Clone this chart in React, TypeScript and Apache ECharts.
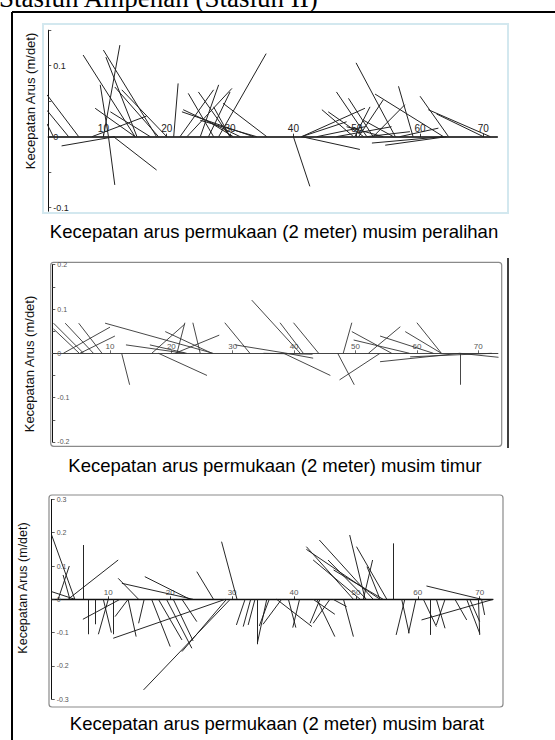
import React, { useEffect, useRef } from "react";
import * as echarts from "echarts";

// ---------- data (time index of stick origin, stick tip x, stick tip y [m/det]) ----------
const xTickValues = [10, 20, 30, 40, 50, 60, 70];

const peralihanStart = [6.1, 4.5, 2.1, 11.8, 8.2, 15.0, 18.4, 15.3, 10.0, 10.8, 10.8, 11.6, 15.0, 17.4, 18.7, 20.0, 21.1, 22.1, 23.2, 25.3, 26.6, 28.2, 27.4, 30.0, 31.6, 33.7, 35.8, 34.2, 30.0, 30.5, 40.0, 41.3, 41.3, 41.3, 49.5, 51.1, 51.6, 52.6, 56.1, 49.7, 50.3, 55.8, 58.9, 52.6, 63.7, 64.5, 71.1, 70.0, 63.7, 64.2, 56.8, 46.8, 51.6, 43.7, 54.2];
const peralihanTipX = [1.1, 1.1, 1.1, 3.4, 16.8, 6.8, 10.0, 10.4, 12.6, 9.5, 11.8, 18.4, 8.7, 11.1, 11.8, 12.9, 21.8, 27.4, 30.3, 28.2, 30.0, 35.7, 23.4, 25.0, 22.6, 22.4, 28.9, 25.3, 27.4, 26.3, 42.6, 50.5, 51.3, 48.4, 44.5, 45.5, 46.8, 48.7, 49.9, 52.1, 54.2, 51.1, 56.6, 57.6, 52.9, 60.0, 61.3, 62.6, 52.4, 54.5, 62.9, 55.5, 58.4, 51.3, 48.4];
const peralihanTipY = [0.059, 0.037, 0.018, -0.013, 0.029, 0.115, 0.122, 0.112, 0.129, 0.073, -0.068, -0.047, 0.040, 0.035, 0.070, 0.066, 0.075, 0.066, 0.068, 0.073, 0.063, 0.117, 0.061, 0.063, 0.038, 0.035, 0.047, 0.023, 0.042, 0.023, -0.070, -0.018, 0.040, 0.021, 0.038, 0.035, 0.063, 0.054, 0.104, 0.042, 0.052, 0.023, 0.071, 0.045, 0.060, 0.057, 0.038, 0.032, -0.009, -0.012, 0.012, 0.014, 0.007, 0.014, 0.014];

const timurStart = [5.7, 5.0, 7.3, 8.7, 2.4, 5.1, 11.9, 26.8, 22.2, 16.8, 20.9, 26.6, 24.7, 17.9, 20.6, 22.5, 32.8, 38.8, 38.8, 38.3, 41.0, 41.5, 44.0, 48.0, 47.1, 54.0, 55.9, 58.8, 52.1, 62.7, 64.0, 64.0, 67.0, 67.0, 72.2, 67.0, 35.0];
const timurTipX = [0.8, 0.8, 2.7, 4.9, 10.0, 10.8, 13.2, 9.2, 12.6, 22.2, 22.2, 19.0, 23.5, 25.8, 27.8, 16.5, 28.7, 30.4, 43.1, 45.9, 33.1, 37.7, 39.9, 49.4, 49.8, 47.4, 49.4, 49.7, 57.3, 54.0, 58.1, 60.0, 54.0, 67.0, 58.9, 73.3, 43.0];
const timurTipY = [0.068, 0.055, 0.068, 0.068, 0.059, 0.039, -0.071, 0.068, 0.019, 0.066, 0.069, 0.049, 0.069, -0.050, 0.041, 0.019, 0.069, 0.019, -0.011, -0.050, 0.120, 0.069, 0.069, 0.069, -0.071, -0.060, 0.049, 0.030, 0.060, 0.039, 0.049, 0.069, -0.019, -0.071, -0.008, -0.009, -0.002];

const baratStart = [4.6, 1.9, 3.8, 4.6, 3.5, 5.9, 6.8, 7.9, 10.8, 10.0, 9.2, 11.9, 13.2, 28.9, 14.9, 23.7, 23.2, 13.2, 15.8, 17.0, 18.1, 19.4, 20.5, 21.9, 29.7, 29.1, 27.0, 30.8, 32.1, 33.0, 33.7, 34.0, 35.6, 36.0, 38.0, 37.2, 39.1, 40.9, 44.2, 43.1, 43.7, 45.8, 48.0, 46.3, 49.6, 53.9, 50.7, 52.8, 51.7, 51.5, 55.0, 51.2, 53.9, 54.4, 56.0, 57.9, 57.4, 59.7, 60.9, 62.0, 63.0, 64.4, 72.2, 66.0, 67.9, 68.4, 69.8, 70.3, 70.3];
const baratTipX = [0.85, 3.7, 2.7, 0.85, 11.6, 5.9, 6.8, 7.9, 10.8, 8.4, 10.5, 5.9, 11.1, 10.8, 11.6, 12.2, 15.9, 14.5, 14.9, 20.0, 21.9, 23.5, 23.7, 24.3, 15.7, 21.9, 24.3, 28.3, 30.7, 31.8, 32.6, 34.0, 34.1, 34.4, 35.0, 42.9, 40.3, 39.8, 42.6, 46.6, 46.6, 43.1, 49.6, 48.5, 42.0, 42.0, 43.1, 44.1, 45.5, 49.0, 50.1, 52.7, 51.8, 46.4, 56.0, 56.5, 58.6, 58.5, 63.0, 62.0, 64.4, 63.0, 60.6, 67.9, 70.0, 70.0, 70.0, 70.8, 61.4];
const baratTipY = [0.193, 0.100, 0.073, 0.023, 0.118, 0.163, -0.105, -0.075, -0.105, -0.105, -0.100, -0.060, -0.052, -0.117, 0.063, 0.048, 0.068, -0.112, -0.072, -0.142, -0.122, -0.147, -0.125, -0.067, -0.272, -0.157, 0.083, 0.173, -0.077, -0.082, -0.077, -0.135, -0.130, -0.080, -0.075, -0.082, -0.085, -0.085, -0.072, -0.045, -0.112, -0.072, -0.112, -0.022, 0.158, 0.150, 0.118, 0.178, 0.118, 0.193, 0.158, 0.118, 0.098, 0.088, 0.168, -0.107, -0.102, -0.102, -0.082, -0.107, -0.087, -0.077, -0.062, -0.062, -0.102, -0.067, -0.107, -0.047, 0.040];

const peralihanYTicks = [-0.1, -0.05, 0, 0.05, 0.1, 0.15];
const peralihanYLabels = [-0.1, 0, 0.1];
const timurYTicks = [-0.2, -0.15, -0.1, -0.05, 0, 0.05, 0.1, 0.15, 0.2];
const timurYLabels = [-0.2, -0.1, 0, 0.1, 0.2];
const baratYTicks = [-0.3, -0.2, -0.1, 0, 0.1, 0.2, 0.3];
const baratYLabels = [-0.3, -0.2, -0.1, 0, 0.1, 0.2, 0.3];

const yTitle = "Kecepatan Arus (m/det)";
const captions = [
  "Kecepatan arus permukaan (2 meter) musim peralihan",
  "Kecepatan arus permukaan (2 meter) musim timur",
  "Kecepatan arus permukaan (2 meter) musim barat",
];
const pageTitle = "Stasiun Ampenan (Stasiun II)";

// ---------- helpers ----------
function sticks(start: number[], tipX: number[], tipY: number[]) {
  return start.map((s, i) => ({ coords: [[s, 0], [tipX[i], tipY[i]]] }));
}

const fmt = (v: number) => (Math.abs(v) < 1e-9 ? "0" : v.toFixed(1));

type PanelCfg = {
  left: number; top: number; width: number; height: number;
  xMin: number; xMax: number; yMin: number; yMax: number;
  yTicks: number[]; yLabels: number[];
  labelSize: number; labelColor: string;
  axisColor: string; axisWidth: number;
  stickColor: string; stickWidth: number;
  data: any[];
};

export default function App() {
  const ref = useRef<HTMLDivElement>(null);

  useEffect(() => {
    if (!ref.current) return;
    const chart = echarts.init(ref.current, undefined, { renderer: "svg" });

    const panels: PanelCfg[] = [
      {
        left: 48.3, top: 30.2, width: 449, height: 181,
        xMin: 1.3, xMax: 72.2, yMin: -0.105, yMax: 0.15,
        yTicks: peralihanYTicks, yLabels: peralihanYLabels,
        labelSize: 9, labelColor: "#222", axisColor: "#000", axisWidth: 1.5,
        stickColor: "#222", stickWidth: 1,
        data: sticks(peralihanStart, peralihanTipX, peralihanTipY),
      },
      {
        left: 52.3, top: 264.7, width: 445.6, height: 177.2,
        xMin: 0.6, xMax: 73.2, yMin: -0.2, yMax: 0.2,
        yTicks: timurYTicks, yLabels: timurYLabels,
        labelSize: 7, labelColor: "#555", axisColor: "#444", axisWidth: 1,
        stickColor: "#333", stickWidth: 0.9,
        data: sticks(timurStart, timurTipX, timurTipY),
      },
      {
        left: 51.7, top: 499.4, width: 441, height: 199.8,
        xMin: 0.86, xMax: 72.1, yMin: -0.3, yMax: 0.3,
        yTicks: baratYTicks, yLabels: baratYLabels,
        labelSize: 7, labelColor: "#555", axisColor: "#111", axisWidth: 1.3,
        stickColor: "#1a1a1a", stickWidth: 0.95,
        data: sticks(baratStart, baratTipX, baratTipY),
      },
    ];

    const font = "'Liberation Sans', Arial, sans-serif";

    const option: any = {
      animation: false,
      backgroundColor: "#fff",
      grid: panels.map((p) => ({
        left: p.left, top: p.top, width: p.width, height: p.height,
        containLabel: false, outerBoundsMode: "none",
      })),
      xAxis: panels.map((p, i) => ({
        type: "value", gridIndex: i, min: p.xMin, max: p.xMax,
        position: "bottom",
        // move the axis up to the y = 0 line
        offset: -(p.height * (0 - p.yMin)) / (p.yMax - p.yMin),
        axisLine: { show: true, onZero: false, lineStyle: { color: p.axisColor, width: p.axisWidth } },
        axisTick: { show: true, inside: true, length: 3, customValues: xTickValues, lineStyle: { color: p.axisColor, width: 0.8 } },
        axisLabel: {
          show: true, inside: true, margin: 3, customValues: xTickValues,
          fontSize: p.labelSize + 1, fontFamily: font, color: p.labelColor,
        },
        splitLine: { show: false },
      })),
      yAxis: panels.map((p, i) => ({
        type: "value", gridIndex: i, min: p.yMin, max: p.yMax,
        axisLine: { show: true, onZero: false, lineStyle: { color: "#111", width: 1 } },
        axisTick: { show: true, inside: true, length: 3, customValues: p.yTicks, lineStyle: { color: "#333", width: 0.8 } },
        axisLabel: {
          show: true, inside: true, margin: 5, customValues: p.yLabels,
          formatter: (v: number) => fmt(v),
          fontSize: p.labelSize, fontFamily: font, color: p.labelColor,
        },
        splitLine: { show: false },
      })),
      series: panels.map((p, i) => ({
        type: "lines", coordinateSystem: "cartesian2d",
        xAxisIndex: i, yAxisIndex: i, silent: true,
        lineStyle: { color: p.stickColor, width: p.stickWidth, opacity: 1 },
        data: p.data,
      })),
      graphic: [
        // page title (partly cut off at top, as in the source)
        { type: "text", x: -1, y: -2, style: { text: pageTitle, fontFamily: "'Liberation Serif', 'Times New Roman', serif", fontSize: 27, fill: "#000", align: "left", verticalAlign: "middle" } },
        // outer frame
        { type: "line", shape: { x1: 12, y1: 12, x2: 555, y2: 12 }, style: { stroke: "#000", lineWidth: 1.8 } },
        { type: "line", shape: { x1: 12, y1: 12, x2: 12, y2: 740 }, style: { stroke: "#000", lineWidth: 2 } },
        // panel boxes
        { type: "rect", shape: { x: 43, y: 24, width: 465, height: 189 }, style: { fill: "none", stroke: "#d3e8ef", lineWidth: 2 }, z: -1 },
        { type: "rect", shape: { x: 50.7, y: 262.3, width: 451, height: 184, r: 3 }, style: { fill: "none", stroke: "#8a8a8a", lineWidth: 1.2 }, z: -1 },
        { type: "rect", shape: { x: 49, y: 495, width: 454, height: 212, r: 3 }, style: { fill: "none", stroke: "#8a8a8a", lineWidth: 1.2 }, z: -1 },
        { type: "line", shape: { x1: 508, y1: 258, x2: 508, y2: 448 }, style: { stroke: "#000", lineWidth: 1.5 } },
        // y-axis titles
        { type: "text", x: 30, y: 101, rotation: Math.PI / 2, style: { text: yTitle, fontFamily: font, fontSize: 13, fill: "#111", align: "center", verticalAlign: "middle" } },
        { type: "text", x: 29, y: 364, rotation: Math.PI / 2, style: { text: yTitle, fontFamily: font, fontSize: 13, fill: "#111", align: "center", verticalAlign: "middle" } },
        { type: "text", x: 23, y: 588, rotation: Math.PI / 2, style: { text: yTitle, fontFamily: font, fontSize: 12.5, fill: "#111", align: "center", verticalAlign: "middle" } },
        // captions
        { type: "text", x: 274, y: 231.5, style: { text: captions[0], fontFamily: font, fontSize: 18.5, fill: "#000", align: "center", verticalAlign: "middle" } },
        { type: "text", x: 275, y: 465, style: { text: captions[1], fontFamily: font, fontSize: 18.5, fill: "#000", align: "center", verticalAlign: "middle" } },
        { type: "text", x: 277, y: 723.5, style: { text: captions[2], fontFamily: font, fontSize: 18.5, fill: "#000", align: "center", verticalAlign: "middle" } },
      ],
    };

    chart.setOption(option);
    return () => chart.dispose();
  }, []);

  return (
    <div
      ref={ref}
      style={{ position: "fixed", left: 0, top: 0, width: 555, height: 740, background: "#fff" }}
    />
  );
}
